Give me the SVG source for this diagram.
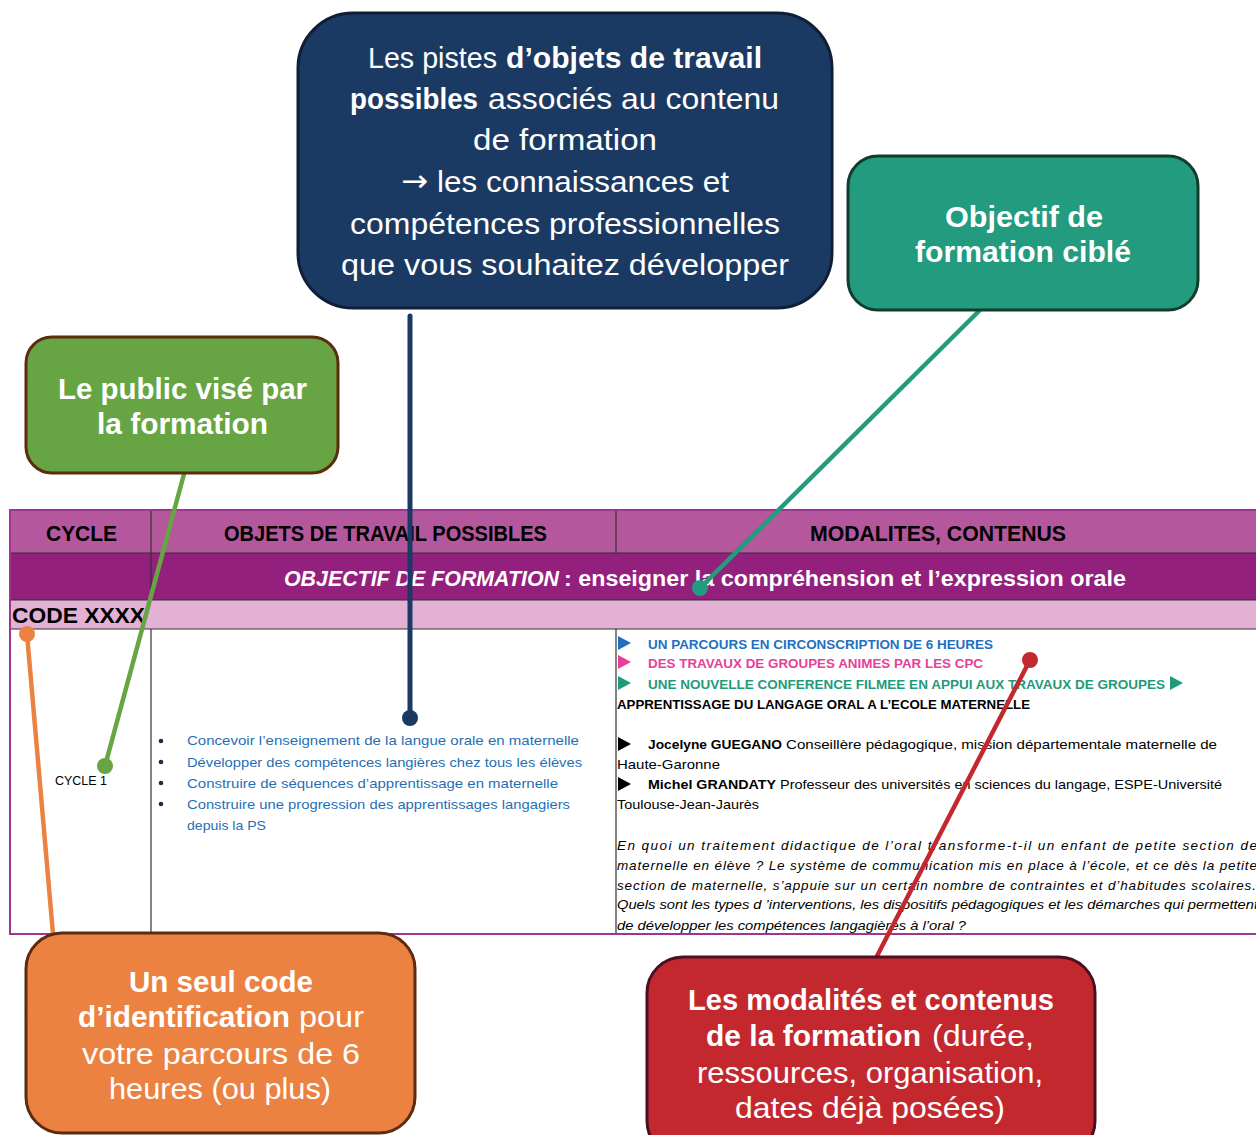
<svg xmlns="http://www.w3.org/2000/svg" width="1256" height="1135" viewBox="0 0 1256 1135">
<style>
.big{font-family:"Liberation Sans",Arial,sans-serif;fill:#fff;font-size:30px}
.b{font-weight:bold}
.hd{font-family:"Liberation Sans",Arial,sans-serif;font-weight:bold;font-size:22px;fill:#000}
.bd{font-family:"Liberation Sans",Arial,sans-serif;font-size:13.5px;fill:#000}
.blue{fill:#1f6fb5}
.grid{stroke:#333;stroke-width:1.2;fill:none}
.conn{fill:none;stroke-linecap:round}
</style>
<rect width="1256" height="1135" fill="#fff"/>

<g id="table">
<rect x="10" y="510" width="1260" height="43" fill="#b5579d"/>
<rect x="10" y="553" width="1260" height="47" fill="#93207c"/>
<rect x="10" y="600" width="1260" height="29" fill="#e3b1d3"/>
<rect x="10" y="629" width="1260" height="305" fill="#fff"/>
<line class="grid" x1="10" y1="553" x2="1256" y2="553"/>
<line class="grid" x1="10" y1="600" x2="1256" y2="600"/>
<line class="grid" x1="10" y1="629" x2="1256" y2="629"/>
<line class="grid" x1="151" y1="510" x2="151" y2="600"/>
<line class="grid" x1="616" y1="510" x2="616" y2="553"/>
<line class="grid" x1="151" y1="629" x2="151" y2="934"/>
<line class="grid" x1="616" y1="629" x2="616" y2="934"/>
<path d="M1260 510 H10 V934 H1260" fill="none" stroke="#a0358f" stroke-width="2"/>
<text class="hd" x="46" y="541" textLength="71" lengthAdjust="spacingAndGlyphs">CYCLE</text>
<text class="hd" x="224" y="541" textLength="323" lengthAdjust="spacingAndGlyphs">OBJETS DE TRAVAIL POSSIBLES</text>
<text class="hd" x="810" y="541" textLength="256" lengthAdjust="spacingAndGlyphs">MODALITES, CONTENUS</text>
<text class="hd" x="284" y="586" style="fill:#fff" font-style="italic" textLength="275" lengthAdjust="spacingAndGlyphs">OBJECTIF DE FORMATION</text>
<text class="hd" x="564" y="586" style="fill:#fff" textLength="562" lengthAdjust="spacingAndGlyphs">: enseigner la compréhension et l’expression orale</text>
<text class="hd" x="12" y="623" textLength="133" lengthAdjust="spacingAndGlyphs">CODE XXXX</text>
<text class="bd" x="55" y="785" textLength="52" lengthAdjust="spacingAndGlyphs">CYCLE 1</text>
<g>
<circle cx="161" cy="741" r="2.3" fill="#1f2a44"/>
<circle cx="161" cy="762" r="2.3" fill="#1f2a44"/>
<circle cx="161" cy="783" r="2.3" fill="#1f2a44"/>
<circle cx="161" cy="804" r="2.3" fill="#1f2a44"/>
<text class="bd blue" x="187" y="745" textLength="392" lengthAdjust="spacingAndGlyphs">Concevoir l’enseignement de la langue orale en maternelle</text>
<text class="bd blue" x="187" y="767" textLength="395" lengthAdjust="spacingAndGlyphs">Développer des compétences langières chez tous les élèves</text>
<text class="bd blue" x="187" y="788" textLength="371" lengthAdjust="spacingAndGlyphs">Construire de séquences d’apprentissage en maternelle</text>
<text class="bd blue" x="187" y="809" textLength="383" lengthAdjust="spacingAndGlyphs">Construire une progression des apprentissages langagiers</text>
<text class="bd blue" x="187" y="830" textLength="79" lengthAdjust="spacingAndGlyphs">depuis la PS</text>
</g>
<polygon points="618,636 631,643 618,650" fill="#1f70c1"/>
<polygon points="618,655 631,662 618,669" fill="#e8409a"/>
<polygon points="618,676 631,683 618,690" fill="#1f9a7a"/>
<polygon points="1170,676 1183,683 1170,690" fill="#1f9a7a"/>
<polygon points="618,737 631,744 618,751" fill="#000"/>
<polygon points="618,777 631,784 618,791" fill="#000"/>
<text class="bd b" x="648" y="649" style="fill:#1f70c1" textLength="345" lengthAdjust="spacingAndGlyphs">UN PARCOURS EN CIRCONSCRIPTION DE 6 HEURES</text>
<text class="bd b" x="648" y="668" style="fill:#e8409a" textLength="335" lengthAdjust="spacingAndGlyphs">DES TRAVAUX DE GROUPES ANIMES PAR LES CPC</text>
<text class="bd b" x="648" y="689" style="fill:#1f9a7a" textLength="517" lengthAdjust="spacingAndGlyphs">UNE NOUVELLE CONFERENCE FILMEE EN APPUI AUX TRAVAUX DE GROUPES</text>
<text class="bd b" x="617" y="709" textLength="413" lengthAdjust="spacingAndGlyphs">APPRENTISSAGE DU LANGAGE ORAL A L’ECOLE MATERNELLE</text>
<text class="bd b" x="648" y="749" textLength="134" lengthAdjust="spacingAndGlyphs">Jocelyne GUEGANO</text>
<text class="bd" x="786" y="749" textLength="431" lengthAdjust="spacingAndGlyphs">Conseillère pédagogique, mission départementale maternelle de</text>
<text class="bd" x="617" y="769" textLength="103" lengthAdjust="spacingAndGlyphs">Haute-Garonne</text>
<text class="bd b" x="648" y="789" textLength="128" lengthAdjust="spacingAndGlyphs">Michel GRANDATY</text>
<text class="bd" x="780" y="789" textLength="442" lengthAdjust="spacingAndGlyphs">Professeur des universités en sciences du langage, ESPE-Université</text>
<text class="bd" x="617" y="809" textLength="142" lengthAdjust="spacingAndGlyphs">Toulouse-Jean-Jaurès</text>
<g class="bd" font-style="italic">
<text x="617" y="850" textLength="640" lengthAdjust="spacing">En quoi un traitement didactique de l’oral transforme-t-il un enfant de petite section de</text>
<text x="617" y="870" textLength="640" lengthAdjust="spacing">maternelle en élève ? Le système de communication mis en place à l’école, et ce dès la petite</text>
<text x="617" y="890" textLength="639" lengthAdjust="spacing">section de maternelle, s’appuie sur un certain nombre de contraintes et d’habitudes scolaires.</text>
<text x="617" y="909" textLength="641" lengthAdjust="spacingAndGlyphs">Quels sont les types d ’interventions, les dispositifs pédagogiques et les démarches qui permettent</text>
<text x="617" y="930" textLength="349" lengthAdjust="spacingAndGlyphs">de développer les compétences langagières à l’oral ?</text>
</g>
</g>

<g id="connectors">
<line class="conn" x1="410" y1="316" x2="410" y2="718" stroke="#1b3a63" stroke-width="5"/>
<circle cx="410" cy="718" r="8" fill="#1b3a63"/>
<line class="conn" x1="979" y1="311" x2="700" y2="588" stroke="#239b7e" stroke-width="4.5"/>
<circle cx="700" cy="588" r="8" fill="#239b7e"/>
<line class="conn" x1="184" y1="474" x2="105" y2="766" stroke="#67a443" stroke-width="4.5"/>
<circle cx="105" cy="766" r="8" fill="#67a443"/>
<line class="conn" x1="53" y1="934" x2="27" y2="634" stroke="#ec8242" stroke-width="4.5"/>
<circle cx="27" cy="634" r="8" fill="#ec8242"/>
<line class="conn" x1="876" y1="958" x2="1030" y2="660" stroke="#c4282f" stroke-width="4.5"/>
<circle cx="1030" cy="660" r="8" fill="#c4282f"/>
</g>

<g id="node-objets">
<rect x="298" y="13" width="534" height="295" rx="55" fill="#1b3a63" stroke="#0f1f38" stroke-width="3"/>
<text class="big" x="368" y="68" textLength="129" lengthAdjust="spacingAndGlyphs">Les pistes</text>
<text class="big b" x="506" y="68" textLength="256" lengthAdjust="spacingAndGlyphs">d’objets de travail</text>
<text class="big b" x="350" y="109" font-size="28" textLength="128" lengthAdjust="spacingAndGlyphs">possibles</text>
<text class="big" x="488" y="109" textLength="291" lengthAdjust="spacingAndGlyphs">associés au contenu</text>
<text class="big" x="473" y="150" textLength="184" lengthAdjust="spacingAndGlyphs">de formation</text>
<text class="big" x="401" y="191" font-family="DejaVu Sans, sans-serif" font-size="26" style="font-family:'DejaVu Sans',sans-serif" textLength="27" lengthAdjust="spacingAndGlyphs">→</text>
<text class="big" x="437" y="192" textLength="292" lengthAdjust="spacingAndGlyphs">les connaissances et</text>
<text class="big" x="350" y="234" textLength="430" lengthAdjust="spacingAndGlyphs">compétences professionnelles</text>
<text class="big" x="341" y="275" textLength="448" lengthAdjust="spacingAndGlyphs">que vous souhaitez développer</text>
</g>

<g id="node-objectif">
<rect x="848" y="156" width="350" height="154" rx="30" fill="#239b7e" stroke="#123d2d" stroke-width="3"/>
<text class="big b" x="945" y="227" textLength="158" lengthAdjust="spacingAndGlyphs">Objectif de</text>
<text class="big b" x="915" y="262" textLength="216" lengthAdjust="spacingAndGlyphs">formation ciblé</text>
</g>

<g id="node-public">
<rect x="26" y="337" width="312" height="136" rx="26" fill="#67a443" stroke="#5b2c0f" stroke-width="3"/>
<text class="big b" x="58" y="399" textLength="249" lengthAdjust="spacingAndGlyphs">Le public visé par</text>
<text class="big b" x="97" y="434" textLength="171" lengthAdjust="spacingAndGlyphs">la formation</text>
</g>

<g id="node-code">
<rect x="26" y="933" width="389" height="200" rx="36" fill="#ec8242" stroke="#5b2c0f" stroke-width="3"/>
<text class="big b" x="129" y="992" textLength="184" lengthAdjust="spacingAndGlyphs">Un seul code</text>
<text class="big b" x="78" y="1027" textLength="212" lengthAdjust="spacingAndGlyphs">d’identification</text>
<text class="big" x="299" y="1027" textLength="65" lengthAdjust="spacingAndGlyphs">pour</text>
<text class="big" x="82" y="1064" textLength="278" lengthAdjust="spacingAndGlyphs">votre parcours de 6</text>
<text class="big" x="109" y="1099" textLength="222" lengthAdjust="spacingAndGlyphs">heures (ou plus)</text>
</g>

<g id="node-modalites">
<rect x="647" y="957" width="448" height="200" rx="36" fill="#c4282f" stroke="#4d0f22" stroke-width="3"/>
<text class="big b" x="688" y="1010" textLength="366" lengthAdjust="spacingAndGlyphs">Les modalités et contenus</text>
<text class="big b" x="706" y="1046" textLength="215" lengthAdjust="spacingAndGlyphs">de la formation</text>
<text class="big" x="932" y="1046" textLength="102" lengthAdjust="spacingAndGlyphs">(durée,</text>
<text class="big" x="697" y="1083" textLength="346" lengthAdjust="spacingAndGlyphs">ressources, organisation,</text>
<text class="big" x="735" y="1118" textLength="270" lengthAdjust="spacingAndGlyphs">dates déjà posées)</text>
</g>
</svg>
